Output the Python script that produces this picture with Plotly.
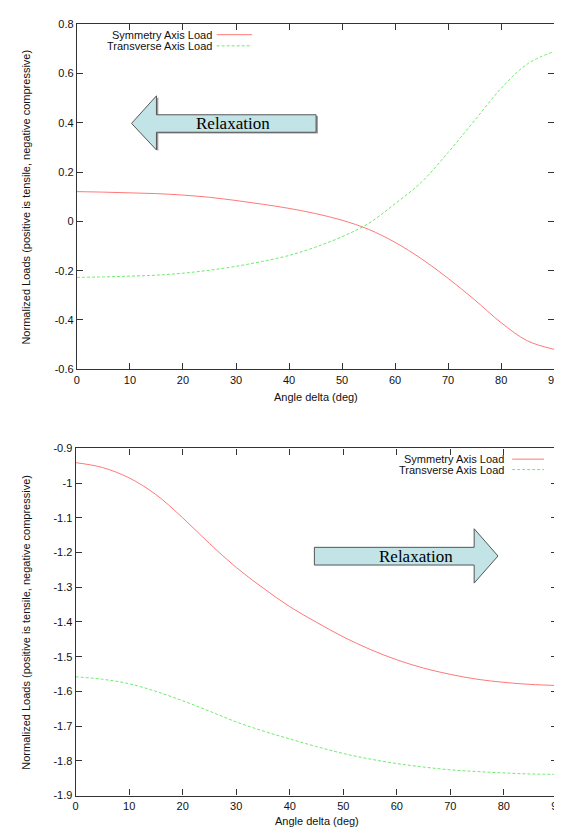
import plotly.graph_objects as go

W, H = 562, 828

# ---------------- data ----------------
angle = [0, 5, 10, 15, 20, 25, 30, 35, 40, 45, 50, 55, 60, 65, 70, 75, 80, 85, 90]

top_symmetry = [0.121, 0.119, 0.116, 0.113, 0.107, 0.098, 0.085, 0.070, 0.053, 0.032,
                0.005, -0.032, -0.085, -0.152, -0.231, -0.318, -0.411, -0.485, -0.519]
top_transverse = [-0.227, -0.225, -0.222, -0.218, -0.210, -0.198, -0.182, -0.162, -0.138, -0.104,
                  -0.062, -0.008, 0.072, 0.160, 0.280, 0.410, 0.540, 0.640, 0.690]

bot_symmetry = [-0.941, -0.955, -0.985, -1.033, -1.100, -1.174, -1.243, -1.302, -1.356, -1.401,
                -1.443, -1.479, -1.509, -1.533, -1.551, -1.565, -1.574, -1.580, -1.583]
bot_transverse = [-1.558, -1.565, -1.578, -1.600, -1.627, -1.657, -1.688, -1.714, -1.737, -1.759,
                  -1.779, -1.795, -1.808, -1.818, -1.826, -1.831, -1.835, -1.838, -1.839]

x_ticks = [0, 10, 20, 30, 40, 50, 60, 70, 80, 90]
x_ticktext = ["0", "10", "20", "30", "40", "50", "60", "70", "80", "90"]
top_yticks = [-0.6, -0.4, -0.2, 0, 0.2, 0.4, 0.6, 0.8]
top_yticktext = ["-0.6", "-0.4", "-0.2", "0", "0.2", "0.4", "0.6", "0.8"]
bot_yticks = [-1.9, -1.8, -1.7, -1.6, -1.5, -1.4, -1.3, -1.2, -1.1, -1.0, -0.9]
bot_yticktext = ["-1.9", "-1.8", "-1.7", "-1.6", "-1.5", "-1.4", "-1.3", "-1.2", "-1.1", "-1", "-0.9"]

series_names = ["Symmetry Axis Load", "Transverse Axis Load"]
x_title = "Angle delta (deg)"
y_title = "Normalized Loads (positive is tensile, negative compressive)"
arrow_label = "Relaxation"

# ---------------- styles ----------------
RED = "rgb(255,120,120)"
GREEN = "rgb(110,235,110)"
AXC = "#333333"
FONT = "Liberation Sans"
ARROW_FILL = "#c2e4e6"
ARROW_LINE = "#555555"
DASH = "3px,2px"


def px(x):
    return x / W


def py(y):
    return 1 - y / H


fig = go.Figure()

fig.add_trace(go.Scatter(x=angle, y=top_symmetry, mode="lines", line_shape="spline",
                         line=dict(color=RED, width=1), xaxis="x", yaxis="y",
                         name=series_names[0], showlegend=False))
fig.add_trace(go.Scatter(x=angle, y=top_transverse, mode="lines", line_shape="spline",
                         line=dict(color=GREEN, width=1, dash=DASH), xaxis="x", yaxis="y",
                         name=series_names[1], showlegend=False))
fig.add_trace(go.Scatter(x=angle, y=bot_symmetry, mode="lines", line_shape="spline",
                         line=dict(color=RED, width=1), xaxis="x2", yaxis="y2",
                         name=series_names[0], showlegend=False))
fig.add_trace(go.Scatter(x=angle, y=bot_transverse, mode="lines", line_shape="spline",
                         line=dict(color=GREEN, width=1, dash=DASH), xaxis="x2", yaxis="y2",
                         name=series_names[1], showlegend=False))

axis_common = dict(showline=True, linecolor=AXC, linewidth=1.2, mirror="ticks",
                   ticks="inside", ticklen=6, tickwidth=1, tickcolor=AXC,
                   showgrid=False, zeroline=False,
                   tickfont=dict(family=FONT, size=11, color="#111"))

top_x_dom = [px(67), px(552)]
bot_x_dom = [px(65.7), px(555.3)]
top_y_dom = [py(360.5), py(10.5)]
bot_y_dom = [py(793), py(440.8)]

fig.update_layout(
    width=W, height=H, autosize=False,
    margin=dict(l=0, r=0, t=0, b=0),
    paper_bgcolor="white", plot_bgcolor="white",
    xaxis=dict(domain=top_x_dom, range=[0, 90], tickvals=x_ticks, ticktext=x_ticktext,
               anchor="y", **axis_common),
    yaxis=dict(domain=top_y_dom, range=[-0.6, 0.8], tickvals=top_yticks, ticktext=top_yticktext,
               anchor="x", **axis_common),
    xaxis2=dict(domain=bot_x_dom, range=[0, 90], tickvals=x_ticks, ticktext=x_ticktext,
                anchor="y2", **axis_common),
    yaxis2=dict(domain=bot_y_dom, range=[-1.9, -0.9], tickvals=bot_yticks, ticktext=bot_yticktext,
                anchor="x2", **axis_common),
)

annotations = []
shapes = []

# axis titles
for (xc, yc) in [((67 + 552) / 2, 389), ((65.7 + 555.3) / 2, 819)]:
    annotations.append(dict(x=px(xc), y=py(yc), xref="paper", yref="paper", text=x_title,
                            showarrow=False, font=dict(family=FONT, size=11, color="#111"),
                            xanchor="center", yanchor="middle"))
for (xc, yc) in [(15, (10.5 + 360.5) / 2), (15, (440.8 + 793) / 2)]:
    annotations.append(dict(x=px(xc), y=py(yc), xref="paper", yref="paper", text=y_title,
                            showarrow=False, textangle=-90,
                            font=dict(family=FONT, size=11, color="#111"),
                            xanchor="center", yanchor="middle"))

# legends (gnuplot style: text, then sample)
legend_boxes = [
    dict(text_right=206, x0=209, x1=245, ys=[21, 32.3]),
    dict(text_right=502.7, x0=509.3, x1=541.7, ys=[451.7, 462.3]),
]
for lb in legend_boxes:
    for name, yy, col, dash in zip(series_names, lb["ys"], [RED, GREEN], ["solid", DASH]):
        annotations.append(dict(x=px(lb["text_right"]), y=py(yy), xref="paper", yref="paper",
                                text=name, showarrow=False, xanchor="right", yanchor="middle",
                                font=dict(family=FONT, size=11, color="#111")))
        shapes.append(dict(type="line", xref="paper", yref="paper",
                           x0=px(lb["x0"]), x1=px(lb["x1"]), y0=py(yy), y1=py(yy),
                           line=dict(color=col, width=1, dash=dash)))


# block arrows, in axis coordinates
def path(points):
    return "M " + " L ".join(f"{a},{b}" for a, b in points) + " Z"


top_arrow = [(10.3, 0.398), (15.0, 0.51), (15.0, 0.433), (45.1, 0.433),
             (45.1, 0.362), (15.0, 0.362), (15.0, 0.29)]
top_shadow = [(a + 0.35, b - 0.005) for a, b in top_arrow]
shapes.append(dict(type="path", xref="x", yref="y", path=path(top_shadow),
                   fillcolor="#9a9a9a", line=dict(width=0), layer="above"))
shapes.append(dict(type="path", xref="x", yref="y", path=path(top_arrow),
                   fillcolor=ARROW_FILL, line=dict(color=ARROW_LINE, width=1), layer="above"))
annotations.append(dict(x=29.4, y=0.398, xref="x", yref="y", text=arrow_label, showarrow=False,
                        font=dict(family="Liberation Serif", size=17, color="black"),
                        xanchor="center", yanchor="middle"))

bot_arrow = [(44.6, -1.185), (74.45, -1.185), (74.45, -1.1315), (78.9, -1.21),
             (74.45, -1.288), (74.45, -1.236), (44.6, -1.236)]
shapes.append(dict(type="path", xref="x2", yref="y2", path=path(bot_arrow),
                   fillcolor=ARROW_FILL, line=dict(color=ARROW_LINE, width=1), layer="above"))
annotations.append(dict(x=63.5, y=-1.21, xref="x2", yref="y2", text=arrow_label, showarrow=False,
                        font=dict(family="Liberation Serif", size=17, color="black"),
                        xanchor="center", yanchor="middle"))

fig.update_layout(annotations=annotations, shapes=shapes)

fig.write_html("out.html")
